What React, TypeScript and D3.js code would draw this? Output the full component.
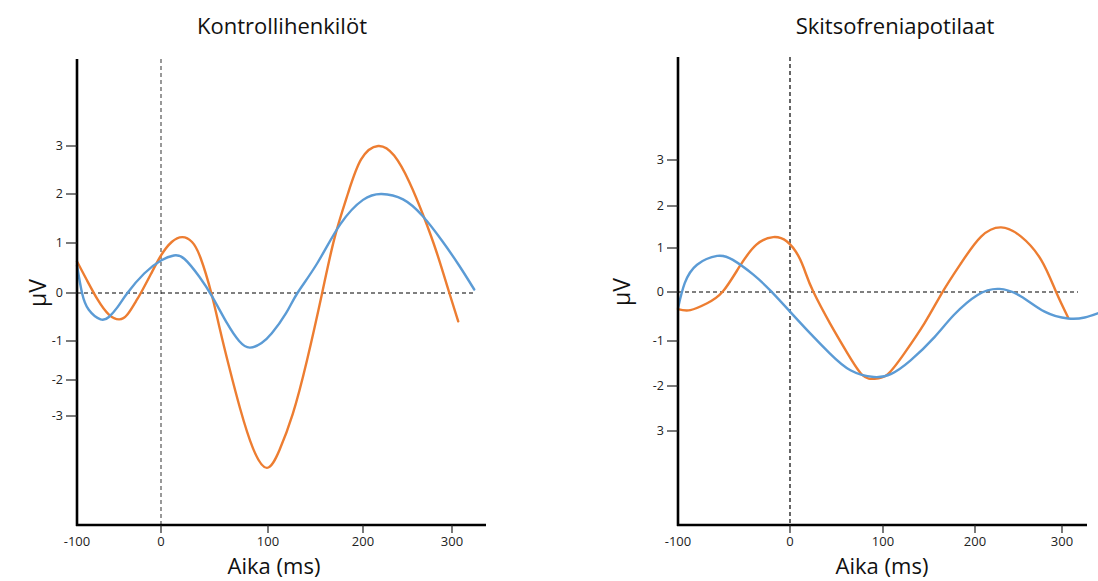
import React, { useEffect, useRef } from 'react';
import * as d3 from 'd3';

// Aika (ms) ja amplitudi (µV), luettu kuvasta
const X_TICKS = [-100, 0, 100, 200, 300];
const Y_TICKS = [3, 2, 1, 0, -1, -2, -3];
const Y_LABELS_CONTROL = ['3', '2', '1', '0', '-1', '-2', '-3'];
const Y_LABELS_PATIENT = ['3', '2', '1', '0', '-1', '-2', '3'];

const CONTROL_ORANGE: [number, number][] = [
  [-100, 0.63], [-88, 0.25], [-75, -0.15], [-62, -0.45], [-50, -0.55], [-40, -0.45],
  [-30, -0.18], [-24, 0], [-12, 0.38], [0, 0.75], [10, 1.02], [20, 1.12], [29, 1.02],
  [37, 0.7], [47, 0], [55, -0.75], [64, -1.7], [74, -2.8], [86, -3.9], [99, -4.44],
  [112, -3.95], [126, -2.95], [141, -1.5], [157, 0], [170, 1.1], [184, 2.0], [198, 2.72],
  [217, 3.0], [235, 2.8], [252, 2.25], [268, 1.55], [283, 0.8], [297, 0], [307, -0.59],
];
const CONTROL_BLUE: [number, number][] = [
  [-100, 0.55], [-94, 0.0], [-86, -0.35], [-72, -0.55], [-62, -0.5], [-52, -0.3], [-40, 0],
  [-20, 0.39], [0, 0.65], [12, 0.75], [22, 0.68], [36, 0.32], [48, -0.08], [62, -0.64],
  [73, -1.0], [83, -1.17], [94, -1.05], [104, -0.84], [119, -0.42], [131, 0], [152, 0.6],
  [176, 1.38], [200, 1.88], [221, 2.0], [245, 1.89], [267, 1.55], [289, 1.04], [308, 0.55],
  [325, 0.07],
];
const PATIENT_ORANGE: [number, number][] = [
  [-100, -0.35], [-89, -0.37], [-74, -0.23], [-60, 0.01], [-45, 0.58], [-30, 1.08], [-15, 1.26],
  [-3, 1.16], [9, 0.82], [17, 0.42], [25, 0.01], [43, -0.64], [62, -1.28], [78, -1.76], [91, -1.84],
  [105, -1.74], [123, -1.28], [145, -0.64], [165, 0.01], [185, 0.66], [207, 1.27], [230, 1.49],
  [253, 1.27], [276, 0.73], [293, 0.01], [307, -0.52],
];
const PATIENT_BLUE: [number, number][] = [
  [-100, -0.33], [-94, 0.2], [-83, 0.62], [-65, 0.82], [-51, 0.73], [-33, 0.4], [-17, 0.02],
  [0, -0.4], [22, -0.85], [43, -1.28], [65, -1.65], [90, -1.8], [109, -1.73], [130, -1.43],
  [156, -0.92], [177, -0.47], [203, -0.06], [228, 0.07], [253, -0.09], [280, -0.4], [307, -0.54],
  [326, -0.52], [342, -0.43],
];

const ORANGE = '#ed7d31';
const BLUE = '#5b9bd5';
const FONT = '"Open Sans", "Noto Sans", sans-serif';

interface Panel {
  title: string;
  titleX: number;
  yLabels: string[];
  xRange: number[];
  yRange: number[];
  top: number;
  bottom: number;
  xEnd: number;
  zeroEnd: number;
  vDash: string;
  labelX: number;
  xLabelX: number;
  orange: [number, number][];
  blue: [number, number][];
}

const PANELS: Panel[] = [
  {
    title: 'Kontrollihenkilöt', titleX: 282, yLabels: Y_LABELS_CONTROL,
    xRange: [77, 161, 268, 363, 452], yRange: [146, 194, 243, 293, 341, 380, 416],
    top: 59, bottom: 525, xEnd: 486, zeroEnd: 474, vDash: '#555', labelX: 38, xLabelX: 274,
    orange: CONTROL_ORANGE, blue: CONTROL_BLUE,
  },
  {
    title: 'Skitsofreniapotilaat', titleX: 895, yLabels: Y_LABELS_PATIENT,
    xRange: [678, 790, 883, 975, 1062], yRange: [160, 206, 248, 292, 341, 386, 431],
    top: 57, bottom: 525, xEnd: 1087, zeroEnd: 1078, vDash: '#000', labelX: 622, xLabelX: 882,
    orange: PATIENT_ORANGE, blue: PATIENT_BLUE,
  },
];

export default function App() {
  const ref = useRef<SVGSVGElement>(null);

  useEffect(() => {
    const svg = d3.select(ref.current);
    svg.selectAll('*').remove();

    PANELS.forEach(p => {
      const x = d3.scaleLinear().domain(X_TICKS).range(p.xRange);
      const y = d3.scaleLinear().domain(Y_TICKS).range(p.yRange);
      const x0 = p.xRange[0];
      const g = svg.append('g');

      // title
      g.append('text')
        .attr('x', p.titleX).attr('y', 34)
        .attr('text-anchor', 'middle')
        .style('font-family', FONT).style('font-size', '22px').attr('fill', '#111')
        .text(p.title);

      // zero lines
      g.append('line')
        .attr('x1', x(0)).attr('x2', x(0))
        .attr('y1', p.top).attr('y2', p.bottom)
        .attr('stroke', p.vDash).attr('stroke-width', 1.2)
        .attr('stroke-dasharray', '4,3');
      g.append('line')
        .attr('x1', x0).attr('x2', p.zeroEnd)
        .attr('y1', y(0)).attr('y2', y(0))
        .attr('stroke', '#000').attr('stroke-width', 1.2)
        .attr('stroke-dasharray', '4,3');

      // curves
      const line = d3.line<[number, number]>()
        .x(d => x(d[0])).y(d => y(d[1]))
        .curve(d3.curveNatural);
      [[p.orange, ORANGE], [p.blue, BLUE]].forEach(([data, color]) => {
        g.append('path')
          .datum(data as [number, number][])
          .attr('d', line)
          .attr('fill', 'none')
          .attr('stroke', color as string)
          .attr('stroke-width', 2.4)
          .attr('stroke-linecap', 'round');
      });

      // axes
      g.append('line')
        .attr('x1', x0).attr('x2', x0).attr('y1', p.top).attr('y2', p.bottom + 1)
        .attr('stroke', '#000').attr('stroke-width', 2.6);
      g.append('line')
        .attr('x1', x0 - 1).attr('x2', p.xEnd).attr('y1', p.bottom).attr('y2', p.bottom)
        .attr('stroke', '#000').attr('stroke-width', 2.4);

      // y ticks
      Y_TICKS.forEach((v, i) => {
        g.append('line')
          .attr('x1', x0 - 11).attr('x2', x0).attr('y1', y(v)).attr('y2', y(v))
          .attr('stroke', '#222').attr('stroke-width', 1.2);
        g.append('text')
          .attr('x', x0 - 14).attr('y', y(v)).attr('dy', '0.35em')
          .attr('text-anchor', 'end')
          .style('font-family', FONT).style('font-size', '12.5px').attr('fill', '#222')
          .text(p.yLabels[i]);
      });

      // x ticks
      X_TICKS.forEach(v => {
        if (v !== X_TICKS[0]) {
          g.append('line')
            .attr('x1', x(v)).attr('x2', x(v)).attr('y1', p.bottom).attr('y2', p.bottom + 8)
            .attr('stroke', '#222').attr('stroke-width', 1.2);
        }
        g.append('text')
          .attr('x', x(v)).attr('y', p.bottom + 21)
          .attr('text-anchor', 'middle')
          .style('font-family', FONT).style('font-size', '13px').attr('fill', '#222')
          .text(v);
      });

      // axis labels
      g.append('text')
        .attr('x', p.xLabelX).attr('y', 574)
        .attr('text-anchor', 'middle')
        .style('font-family', FONT).style('font-size', '22px').attr('fill', '#111')
        .text('Aika (ms)');
      g.append('text')
        .attr('transform', `translate(${p.labelX},${y(0)}) rotate(-90)`)
        .attr('text-anchor', 'middle').attr('dy', '0.35em')
        .style('font-family', FONT).style('font-size', '23px').attr('fill', '#111')
        .text('µV');
    });
  }, []);

  return (
    <svg ref={ref} width={1098} height={581}
      style={{ position: 'absolute', left: 0, top: 0, background: '#fff' }} />
  );
}
